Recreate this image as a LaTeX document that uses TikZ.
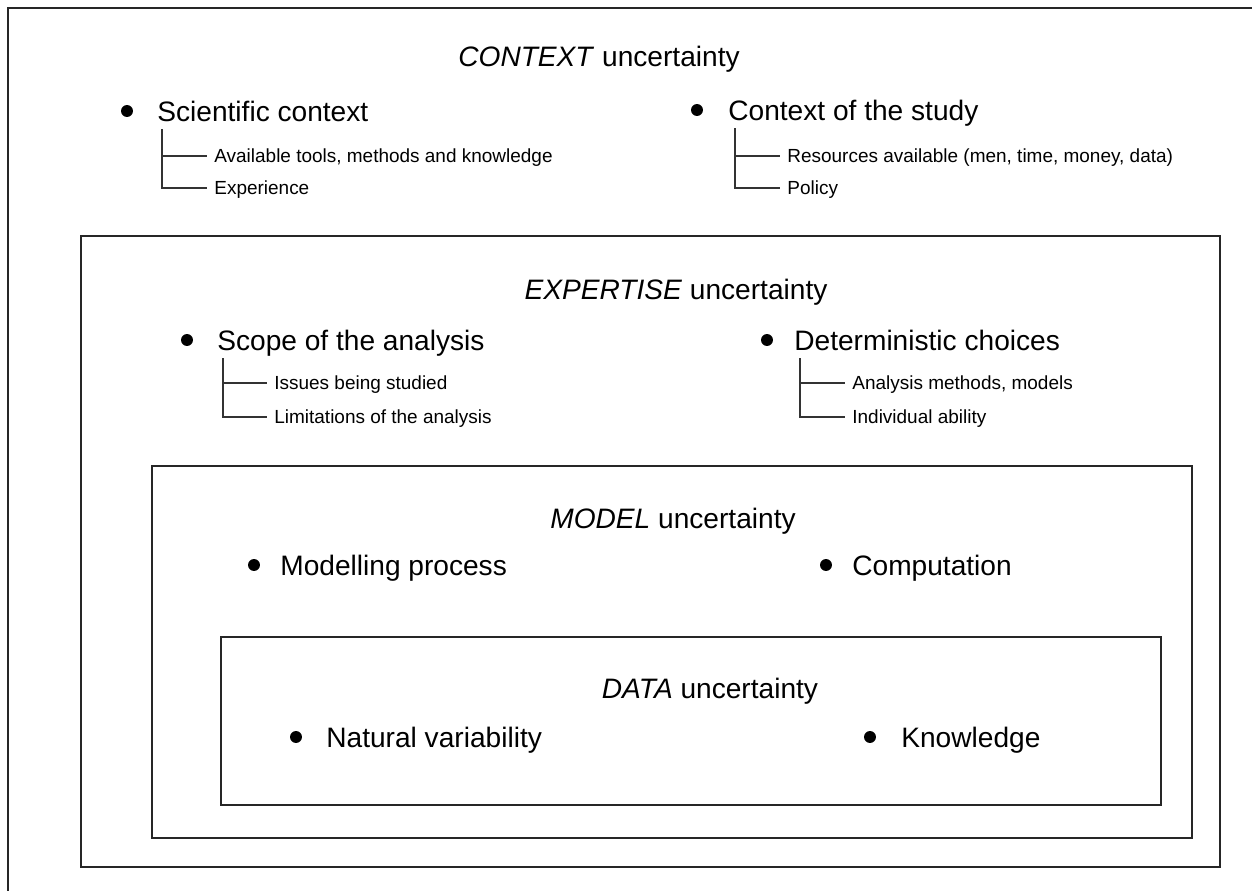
\documentclass[tikz,border=0pt]{standalone}
\usepackage{fontspec}
\setmainfont{Liberation Sans}
\begin{document}
\begin{tikzpicture}[x=0.02cm, y=-0.02cm,
	dot/.style={circle, fill, inner sep=0pt, outer sep=0pt, minimum size=6.8pt},
	item/.style={anchor=west, inner sep=0pt, text height=11.5pt, text depth=0pt, font=\fontsize{16}{19}\selectfont},
	sub/.style={anchor=west, inner xsep=4pt, inner ysep=0pt, text height=7.7pt, text depth=0pt, font=\fontsize{10.8}{13}\selectfont},
	heading/.style={text height=11.5pt, text depth=0pt, font=\fontsize{16}{19}\selectfont},
	frame/.style={draw=black!85, line width=0.9pt},
	tree/.style={draw=black!80, line width=0.7pt}]
	\useasboundingbox (0,0) rectangle (1252,890);
	\clip (0,0) rectangle (1252,890);
	% nested frames
	\draw[frame] (8,8) rectangle (1280,920);
	\draw[frame] (81,236) rectangle (1220,867);
	\draw[frame] (152,466) rectangle (1192,838);
	\draw[frame] (221,637) rectangle (1161,805);
	% context
	\node[heading] (context) at (599,56) {\textit{CONTEXT} uncertainty};
	\node[dot] (sciDot) at (127,111) {};
	\node[item] (sci) at (157,111) {Scientific context};
	\coordinate (sciT) at (162,129);
	\node[sub] (sciA) at (207,156) {Available tools, methods and knowledge};
	\node[sub] (sciB) at (207,188) {Experience};
	\draw[tree] (sciT) |- (sciA.west);
	\draw[tree] (sciT) |- (sciB.west);
	\node[dot] (studyDot) at (697,110) {};
	\node[item] (study) at (728,110) {Context of the study};
	\coordinate (studyT) at (735,128);
	\node[sub] (studyA) at (780,156) {Resources available (men, time, money, data)};
	\node[sub] (studyB) at (780,188) {Policy};
	\draw[tree] (studyT) |- (studyA.west);
	\draw[tree] (studyT) |- (studyB.west);
	% expertise
	\node[heading] (expertise) at (676,289) {\textit{EXPERTISE} uncertainty};
	\node[dot] (scopeDot) at (187,340) {};
	\node[item] (scope) at (217,340) {Scope of the analysis};
	\coordinate (scopeT) at (223,358);
	\node[sub] (scopeA) at (267,383) {Issues being studied};
	\node[sub] (scopeB) at (267,417) {Limitations of the analysis};
	\draw[tree] (scopeT) |- (scopeA.west);
	\draw[tree] (scopeT) |- (scopeB.west);
	\node[dot] (detDot) at (767,340) {};
	\node[item] (det) at (794,340) {Deterministic choices};
	\coordinate (detT) at (800,358);
	\node[sub] (detA) at (845,383) {Analysis methods, models};
	\node[sub] (detB) at (845,417) {Individual ability};
	\draw[tree] (detT) |- (detA.west);
	\draw[tree] (detT) |- (detB.west);
	% model
	\node[heading] (model) at (673,518) {\textit{MODEL} uncertainty};
	\node[dot] (modDot) at (254,565) {};
	\node[item] (mod) at (280,565) {Modelling process};
	\node[dot] (compDot) at (826,565) {};
	\node[item] (comp) at (852,565) {Computation};
	% data
	\node[heading] (data) at (710,688) {\textit{DATA} uncertainty};
	\node[dot] (natDot) at (296,737) {};
	\node[item] (nat) at (326,737) {Natural variability};
	\node[dot] (knowDot) at (870,737) {};
	\node[item] (know) at (901,737) {Knowledge};
\end{tikzpicture}
\end{document}
